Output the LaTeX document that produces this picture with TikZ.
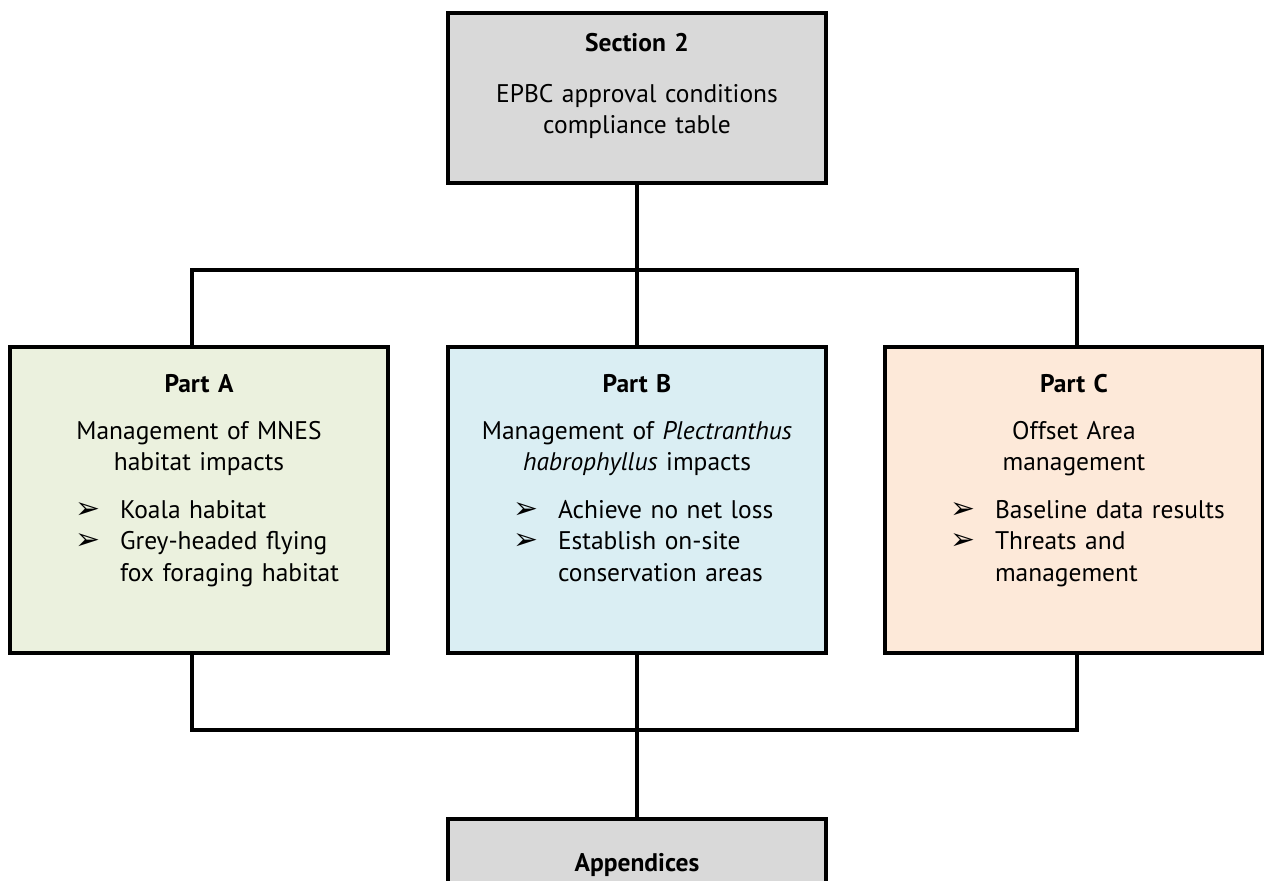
\documentclass[tikz,border=0pt]{standalone}
\usepackage{fontspec}
\usepackage{tikz}
\setmainfont{PT Sans}
\newfontfamily\dingfont{DejaVu Sans}
\usetikzlibrary{positioning}

\definecolor{secgrey}{HTML}{D9D9D9}
\definecolor{partagreen}{HTML}{EBF1DE}
\definecolor{partbblue}{HTML}{DAEEF3}
\definecolor{partcorange}{HTML}{FDE9D9}
\newcommand{\arr}{\makebox[0.9cm][l]{\dingfont\fontsize{17}{17.9}\selectfont ➢}}
\newcommand{\bline}[1]{\mbox{#1}}

\begin{document}
\begin{tikzpicture}[x=0.02cm,y=-0.02cm,
  every node/.style={font=\fontsize{14.5}{17.9}\selectfont},
  partbox/.style={draw, line width=2.3pt, outer sep=0pt, minimum width=7.56cm, minimum height=6.12cm},
  txt/.style={inner sep=0pt, align=center, text width=7.56cm},
  wire/.style={line width=2.3pt}]
\useasboundingbox (0,0) rectangle (1264,881);
\clip (0,0) rectangle (1264,881);

\node[partbox, fill=secgrey, minimum height=3.4cm] (sec) at (637,98) {};
\node[txt, below=0.4cm of sec.north] (sectxt) {\textbf{Section 2}\\[0.39cm]
  EPBC approval conditions\\compliance table};

\node[partbox, fill=partagreen] (partA) at (199,500) {};
\node[partbox, fill=partbblue] (partB) at (637,500) {};
\node[partbox, fill=partcorange] (partC) at (1074,500) {};

\node[txt, below=0.54cm of partA.north] (partAtxt) {\textbf{Part A}\\[0.31cm]
  Management of MNES\\habitat impacts\\[0.32cm]
  \parbox[t]{4.96cm}{\raggedright\bline{\arr Koala habitat}\\
  \bline{\arr Grey-headed flying}\\
  \bline{\hspace*{0.9cm}fox foraging habitat}}};
\node[txt, below=0.54cm of partB.north] (partBtxt) {\textbf{Part B}\\[0.31cm]
  Management of \textit{Plectranthus}\\\textit{habrophyllus} impacts\\[0.32cm]
  \parbox[t]{4.96cm}{\raggedright\bline{\arr Achieve no net loss}\\
  \bline{\arr Establish on-site}\\
  \bline{\hspace*{0.9cm}conservation areas}}};
\node[txt, below=0.54cm of partC.north] (partCtxt) {\textbf{Part C}\\[0.31cm]
  Offset Area\\management\\[0.32cm]
  \parbox[t]{4.96cm}{\raggedright\bline{\arr Baseline data results}\\
  \bline{\arr Threats and}\\
  \bline{\hspace*{0.9cm}management}}};

\node[partbox, fill=secgrey, minimum height=1.84cm] (app) at (637,865) {\textbf{Appendices}};

% connectors
\coordinate (topbus) at (637,270);
\coordinate (botbus) at (637,730);
\draw[wire] (sec.south) -- (topbus);
\draw[wire] ([xshift=-0.14cm]partA.north) |- (topbus) -| ([xshift=0.06cm]partC.north);
\draw[wire] (topbus) -- (partB.north);
\draw[wire] ([xshift=-0.14cm]partA.south) |- (botbus) -| ([xshift=0.06cm]partC.south);
\draw[wire] (partB.south) -- (app.north);
\end{tikzpicture}
\end{document}
